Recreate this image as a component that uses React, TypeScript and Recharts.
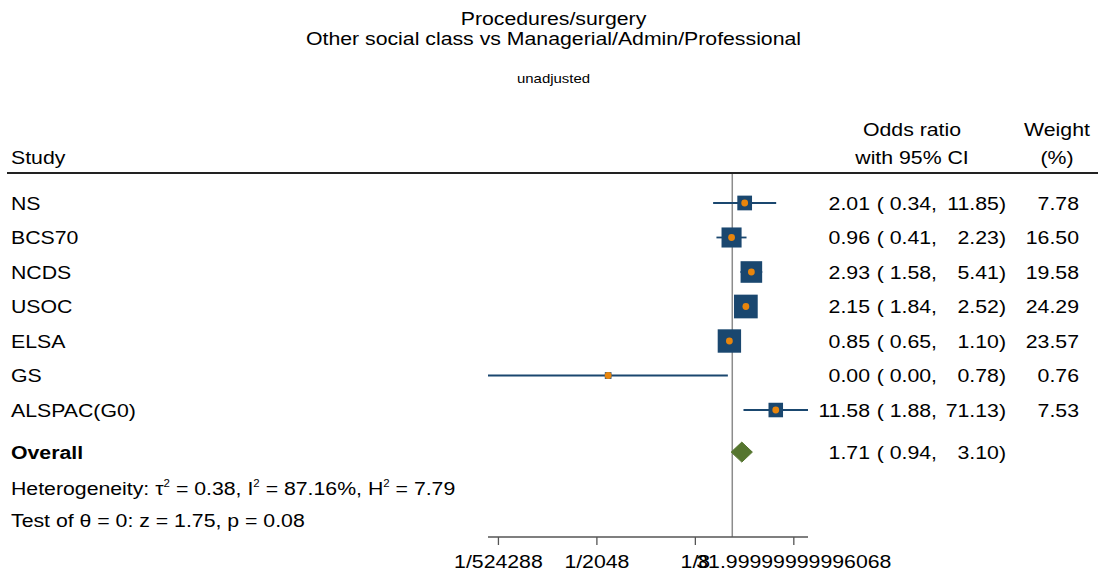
import React from 'react'
import { ScatterChart, Scatter, XAxis, YAxis, ReferenceLine, ErrorBar } from 'recharts'

// study rows
const studies = ['NS', 'BCS70', 'NCDS', 'USOC', 'ELSA', 'GS', 'ALSPAC(G0)']
const oddsRatio = [2.01, 0.96, 2.93, 2.15, 0.85, 0.00092, 11.58]
const ciLow = [0.34, 0.41, 1.58, 1.84, 0.65, 0.00000106, 1.88]
const ciHigh = [11.85, 2.23, 5.41, 2.52, 1.1, 0.78, 71.13]
const weights = [7.78, 16.5, 19.58, 24.29, 23.57, 0.76, 7.53]

const overallLabel = 'Overall'
const overallOR = 1.71
const overallLow = 0.94
const overallHigh = 3.1

const hetTau2 = '0.38'
const hetI2 = '87.16%'
const hetH2 = '7.79'
const testText = 'Test of θ = 0: z = 1.75, p = 0.08'

const xTicks = [-19, -11, -3, 5]
const xTickLabels = ['1/524288', '1/2048', '1/8', '31.99999999996068']

const title = 'Procedures/surgery'
const subtitle = 'Other social class vs Managerial/Admin/Professional'
const note = 'unadjusted'

const FONT = '"Liberation Sans", Arial, Helvetica, sans-serif'
const SX = 1.15
const NAVY = '#1a476f'
const ORANGE = '#e8850c'
const GREEN = '#55752f'

// row positions (in row units, top to bottom)
const OVERALL_POS = 7.22
const HET_POS = 8.26
const TEST_POS = 9.19
const DIAMOND_H = 0.29

const lg = (v: number) => Math.log2(v)

const studyData = studies.map((name, i) => ({
  name,
  x: lg(oddsRatio[i]),
  y: i,
  w: weights[i],
  err: [lg(oddsRatio[i]) - lg(ciLow[i]), lg(ciHigh[i]) - lg(oddsRatio[i])],
}))

const diamondData = [
  { x: lg(overallLow), y: OVERALL_POS },
  { x: lg(overallOR), y: OVERALL_POS - DIAMOND_H },
  { x: lg(overallHigh), y: OVERALL_POS },
  { x: lg(overallOR), y: OVERALL_POS + DIAMOND_H },
  { x: lg(overallLow), y: OVERALL_POS },
]

const xMin = Math.min(...ciLow.map(lg))
const xMax = Math.max(...ciHigh.map(lg))
const rowTicks = [...studies.map((_, i) => i), OVERALL_POS, HET_POS, TEST_POS]

function Txt({ x, y, anchor = 'start', size = 18.5, weight = 'normal', children }: any) {
  return (
    <g transform={`translate(${x},${y}) scale(${SX},1)`}>
      <text x={0} y={0} textAnchor={anchor} fontSize={size} fontWeight={weight} fontFamily={FONT} fill="#000">
        {children}
      </text>
    </g>
  )
}

function Sup({ children }: any) {
  return (
    <>
      <tspan dy={-8} fontSize={10}>2</tspan>
      <tspan dy={8}>{children}</tspan>
    </>
  )
}

function orCells(base: number, est: number, lo: number, hi: number) {
  return (
    <>
      <Txt x={870} y={base} anchor="end">{est.toFixed(2)}</Txt>
      <Txt x={937} y={base} anchor="end">{`( ${lo.toFixed(2)},`}</Txt>
      <Txt x={1006} y={base} anchor="end">{`${hi.toFixed(2)})`}</Txt>
    </>
  )
}

function RowTick(props: any) {
  const { y, payload } = props
  const v = payload.value
  const base = y + 6.6
  const i = studies.findIndex((_, k) => Math.abs(k - v) < 1e-6)
  if (i >= 0) {
    return (
      <g>
        <Txt x={11} y={base}>{studies[i]}</Txt>
        {orCells(base, oddsRatio[i], ciLow[i], ciHigh[i])}
        <Txt x={1079} y={base} anchor="end">{weights[i].toFixed(2)}</Txt>
      </g>
    )
  }
  if (Math.abs(v - OVERALL_POS) < 1e-6) {
    return (
      <g>
        <Txt x={11} y={base} weight="bold">{overallLabel}</Txt>
        {orCells(base, overallOR, overallLow, overallHigh)}
      </g>
    )
  }
  if (Math.abs(v - HET_POS) < 1e-6) {
    return (
      <Txt x={11} y={base}>
        {'Heterogeneity: τ'}
        <Sup>{` = ${hetTau2}, I`}</Sup>
        <Sup>{` = ${hetI2}, H`}</Sup>
        <Sup>{` = ${hetH2}`}</Sup>
      </Txt>
    )
  }
  return <Txt x={11} y={base}>{testText}</Txt>
}

function XTick(props: any) {
  const { x, y, payload } = props
  const i = xTicks.indexOf(payload.value)
  return <Txt x={x} y={y + 23} anchor="middle">{xTickLabels[i]}</Txt>
}

function StudyMarker(props: any) {
  const { cx, cy, payload } = props
  const side = 3 + 4.2 * Math.sqrt(payload.w)
  return (
    <g>
      <rect x={cx - side / 2} y={cy - side / 2} width={side} height={side} fill={NAVY} />
      <circle cx={cx} cy={cy} r={3.4} fill={ORANGE} />
    </g>
  )
}

export default function App() {
  return (
    <div style={{ position: 'absolute', left: 0, top: 0, width: 1098, height: 573, background: '#fff' }}>
      <ScatterChart width={1098} height={573} margin={{ top: 174, right: 290, bottom: 6, left: 0 }}>
        <XAxis
          type="number"
          dataKey="x"
          domain={[xMin, xMax]}
          allowDataOverflow
          ticks={xTicks}
          interval={0}
          height={30}
          tickSize={8}
          tickMargin={0}
          stroke="#555"
          strokeWidth={1.3}
          tick={<XTick />}
        />
        <YAxis
          type="number"
          dataKey="y"
          domain={[-0.84, 9.68]}
          allowDataOverflow
          reversed
          ticks={rowTicks}
          interval={0}
          width={488}
          axisLine={false}
          tickLine={false}
          tick={<RowTick />}
        />
        <ReferenceLine x={0} stroke="#8c8c8c" strokeWidth={1.5} />
        <Scatter data={studyData} shape={<StudyMarker />} isAnimationActive={false}>
          <ErrorBar dataKey="err" direction="x" width={0} stroke={NAVY} strokeWidth={1.8} />
        </Scatter>
        <Scatter
          data={diamondData}
          line={{ stroke: GREEN, fill: GREEN, strokeWidth: 1 }}
          lineType="joint"
          shape={() => <g />}
          isAnimationActive={false}
        />
      </ScatterChart>
      <svg width={1098} height={573} style={{ position: 'absolute', left: 0, top: 0, pointerEvents: 'none' }}>
        <Txt x={553.5} y={24.5} anchor="middle">{title}</Txt>
        <Txt x={553.5} y={45} anchor="middle">{subtitle}</Txt>
        <Txt x={553.5} y={83} anchor="middle" size={13}>{note}</Txt>
        <Txt x={11} y={164}>Study</Txt>
        <Txt x={912} y={136} anchor="middle">Odds ratio</Txt>
        <Txt x={912} y={164} anchor="middle">with 95% CI</Txt>
        <Txt x={1057} y={136} anchor="middle">Weight</Txt>
        <Txt x={1057} y={164} anchor="middle">(%)</Txt>
        <line x1={7} x2={1098} y1={173} y2={173} stroke="#222" strokeWidth={2} />
      </svg>
    </div>
  )
}
